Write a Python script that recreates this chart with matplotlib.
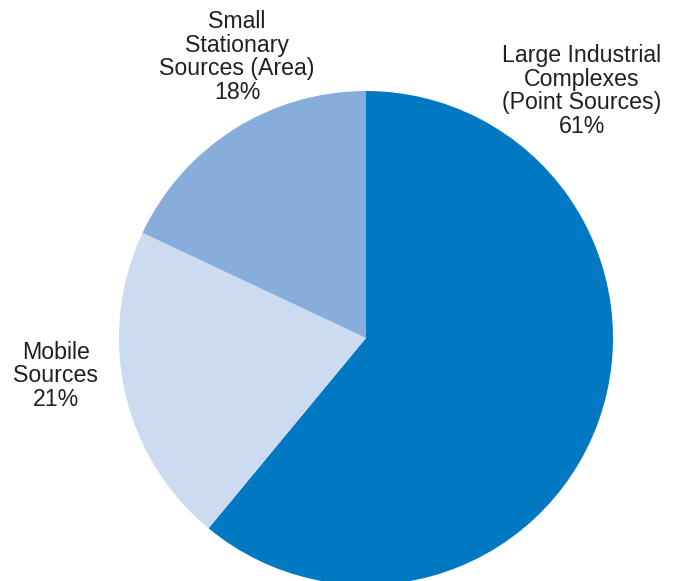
import matplotlib.pyplot as plt

# emission shares, drawn clockwise from 12 o'clock
labels = ['Large Industrial\nComplexes\n(Point Sources)', 'Mobile\nSources', 'Small\nStationary\nSources (Area)']
shares = [61, 21, 18]
colours = ['#0079C2', '#CCDBF0', '#87AEDB']

# label centres in pixel coordinates (x, y from top)
label_pos = [(582, 91), (56, 376), (237, 57)]

H = 581
plt.rcParams['font.family'] = ['Liberation Sans', 'DejaVu Sans']

fig = plt.figure(figsize=(6.8, 5.81), dpi=100)
ax = fig.add_axes([0, 0, 1, 1])

ax.pie(shares, colors=colours, startangle=90, counterclock=False,
       center=(366, H - 338), radius=247, frame=True,
       wedgeprops={'linewidth': 0})
ax.set_xlim(0, 680)
ax.set_ylim(0, H)
ax.set_aspect('equal')
ax.axis('off')

for lab, val, (x, y) in zip(labels, shares, label_pos):
    ax.text(x, H - y, f'{lab}\n{val}%', ha='center', va='center',
            fontsize=16.7, color='#231F20', linespacing=1.04)

fig.savefig('out.png', dpi=100)
